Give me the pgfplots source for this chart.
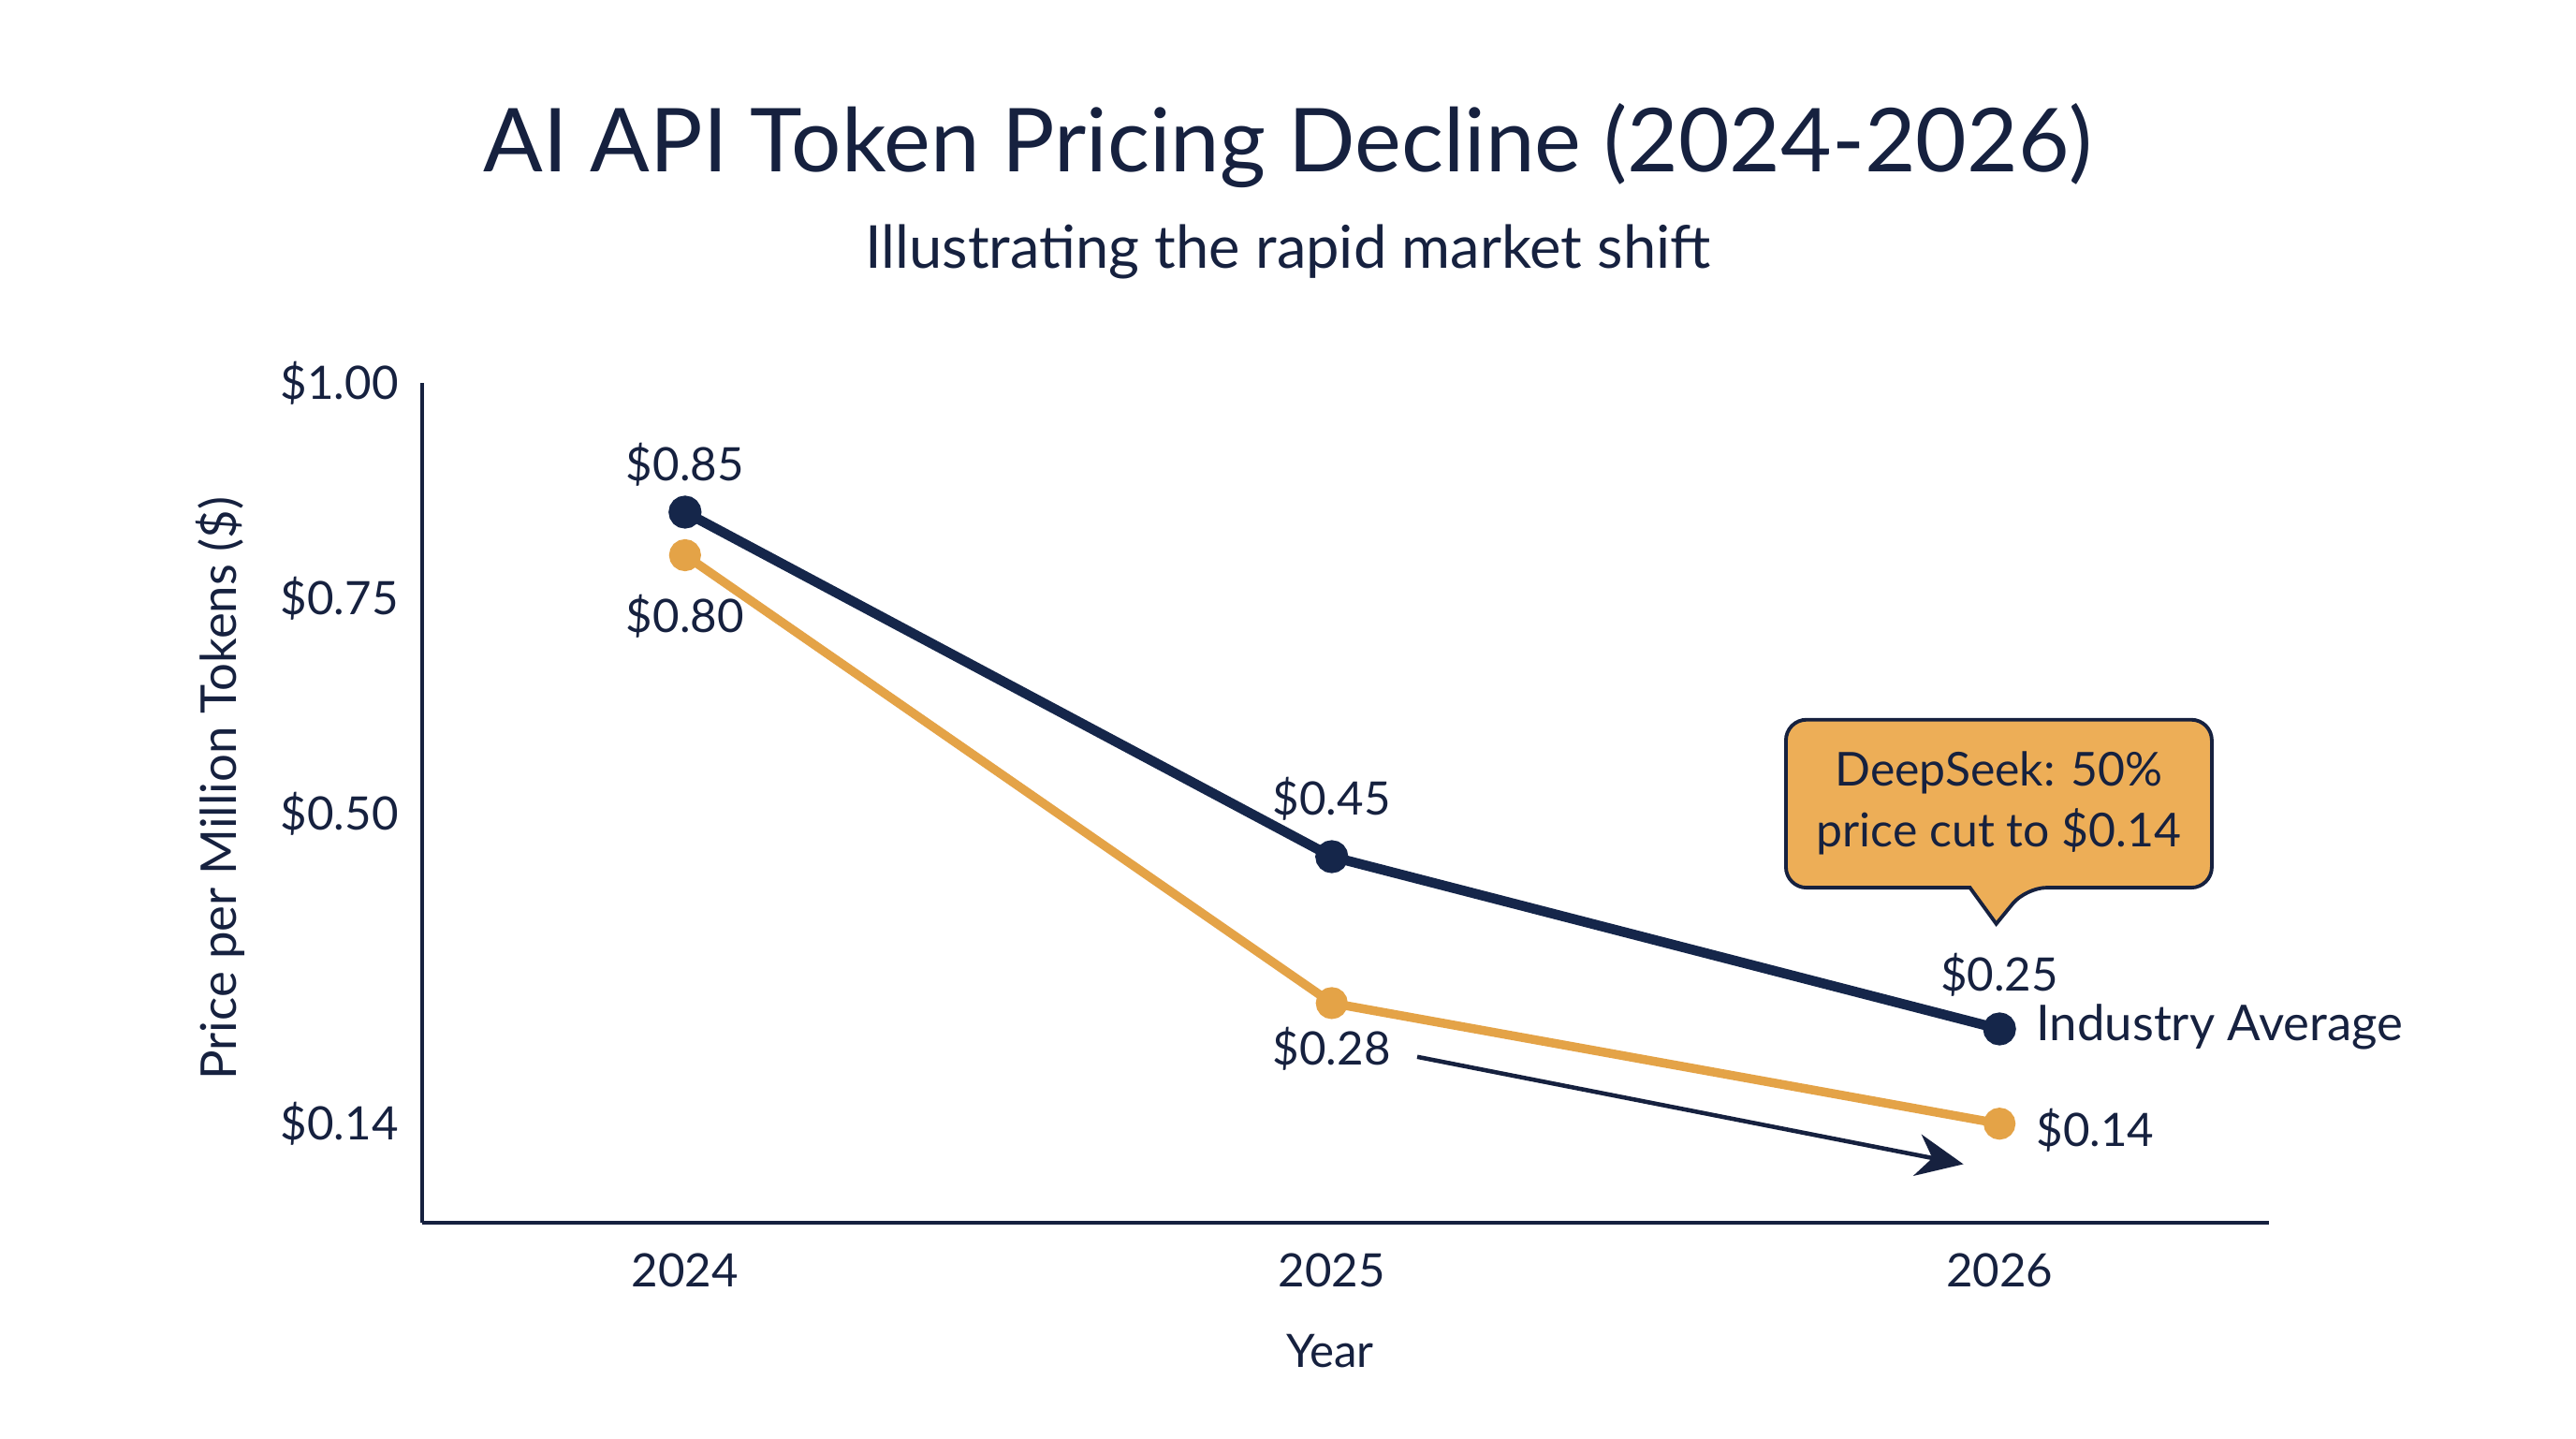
\documentclass[border=0pt]{standalone}
\usepackage{fontspec}
\setmainfont{Lato}
\usepackage{pgfplots}
\pgfplotsset{compat=1.18}
\usetikzlibrary{arrows.meta}

\definecolor{navy}{HTML}{15264A}
\definecolor{gold}{HTML}{E4A347}
\definecolor{boxfill}{HTML}{EDAE57}
\definecolor{ink}{HTML}{16213F}

\newcommand{\lbl}{\fontsize{14}{17}\selectfont}
\newcommand{\lblb}{\fontsize{15}{18}\selectfont}

\begin{document}
\begin{tikzpicture}
\fill[white] (-4.51,-2.30) rectangle (23.01,13.06);
\path[use as bounding box] (-4.51,-2.30) rectangle (23.01,13.06);

\begin{axis}[
  scale only axis,
  width=19.73cm, height=8.97cm,
  xmin=-0.40, xmax=2.41,
  ymin=0.025, ymax=1.0,
  axis lines=left,
  axis line style={ink, line width=1.1pt, -},
  xtick={0,0.984,2},
  xticklabels={2024,2025,2026},
  ytick={0.14,0.5,0.75,1.0},
  yticklabels={\$0.14,\$0.50,\$0.75,\$1.00},
  major tick length=0pt,
  tick label style={font=\lbl, text=ink},
  xticklabel style={yshift=-0.2cm},
  yticklabel style={xshift=-0.13cm},
  xlabel={Year},
  ylabel={Price per Million Tokens (\$)},
  xlabel style={font=\lbl, text=ink, at={(axis description cs:0.4916,-0.153)}, anchor=center},
  ylabel style={font=\lblb, text=ink, at={(axis description cs:-0.1095,0.517)}, anchor=center},
  clip=false,
]
% industry average
\addplot[navy, line width=3pt, mark=*, mark size=3.5pt, mark options={fill=navy, draw=navy}]
  coordinates {(0,0.85) (0.984,0.45) (2,0.25)};
% deepseek
\addplot[gold, line width=2.7pt, mark=*, mark size=3.5pt, mark options={fill=gold, draw=gold}]
  coordinates {(0,0.80) (0.984,0.28) (2,0.14)};

% value labels
\node[font=\lbl, text=ink] at (axis cs:0,0.905) {\$0.85};
\node[font=\lbl, text=ink] at (axis cs:0,0.729) {\$0.80};
\node[font=\lbl, text=ink] at (axis cs:0.984,0.517) {\$0.45};
\node[font=\lbl, text=ink] at (axis cs:0.984,0.227) {\$0.28};
\node[font=\lbl, text=ink] at (axis cs:2,0.313) {\$0.25};
\node[font=\lblb, text=ink, anchor=west, inner sep=0pt] at (axis cs:2.055,0.252) {Industry Average};
\node[font=\lbl, text=ink, anchor=west, inner sep=0pt] at (axis cs:2.055,0.132) {\$0.14};

% trend arrow
\draw[ink, line width=1.3pt, -{Stealth[length=0.5cm, width=0.45cm]}]
  (axis cs:1.114,0.2176) -- (axis cs:1.945,0.093);

% callout
\draw[ink, line width=1.1pt, fill=boxfill, rounded corners=0.22cm]
  (axis cs:1.675,0.609) -- (axis cs:2.323,0.609) -- (axis cs:2.323,0.414)
  -- (axis cs:2.04,0.414) [sharp corners] -- (axis cs:1.995,0.372) -- (axis cs:1.955,0.414)
  [rounded corners=0.22cm] -- (axis cs:1.675,0.414) -- cycle;
\node[font=\fontsize{14.2}{18.4}\selectfont, text=ink, align=center] at (axis cs:1.999,0.512)
  {DeepSeek: 50\%\\price cut to \$0.14};
\end{axis}

% titles
\node[font=\fontsize{26.8}{31}\selectfont, text=ink] at (9.25,11.50) {AI API Token Pricing Decline (2024-2026)};
\node[font=\fontsize{18}{22}\selectfont, text=ink] at (9.25,10.37) {Illustrating the rapid market shift};
\end{tikzpicture}
\end{document}
